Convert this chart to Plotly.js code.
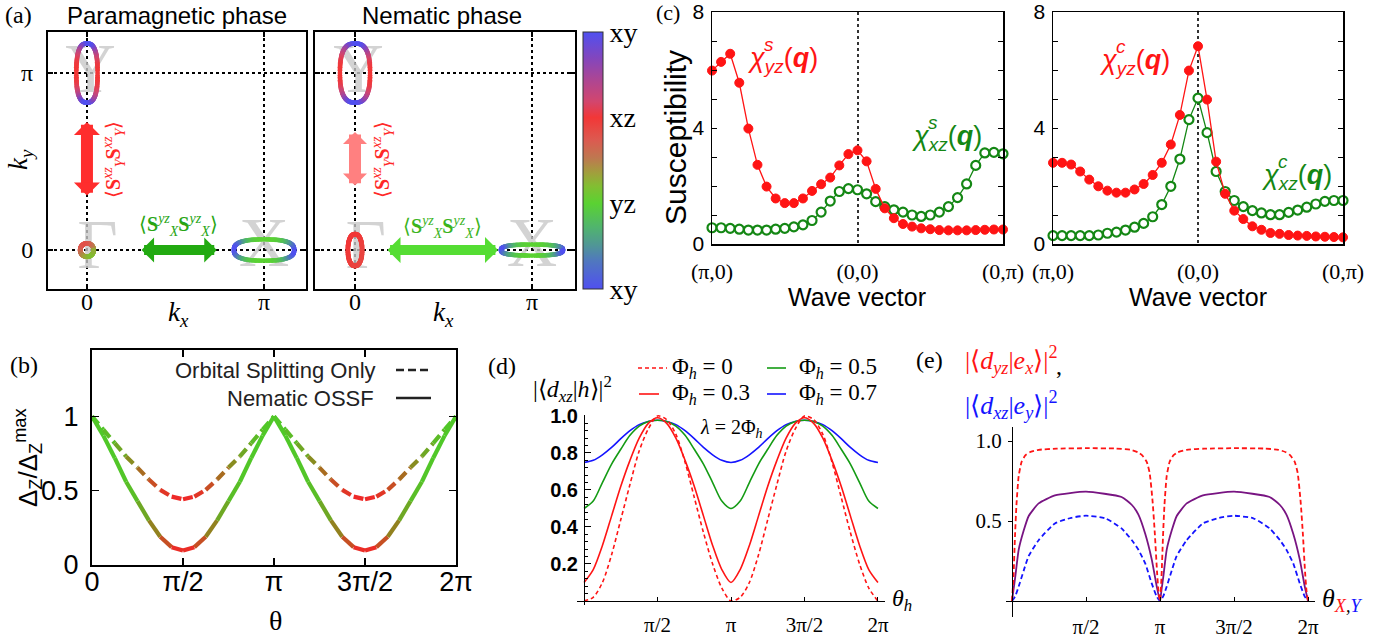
<!DOCTYPE html>
<html><head><meta charset="utf-8">
<script src="https://cdn.plot.ly/plotly-3.0.1.min.js"></script>
<style>html,body{margin:0;padding:0;background:#fff}#chart{width:1393px;height:637px}</style>
</head><body><div id="chart"></div>
<script>
const SANS='Liberation Sans, Arial, sans-serif';
const SERIF='Liberation Serif, Times New Roman, serif';

// ---------- (a) Fermi pockets (k in units of pi) ----------
const pocketPanel=['para','para','para','nem','nem','nem'];
const pocketName=['Y','Γ','X','Y','Γ','X'];
const pocketKx=[0,0,1,0,0,1];
const pocketKy=[1,0,0,1,0,0];
const pocketHalfW=[0.060,0.038,0.170,0.085,0.040,0.175];
const pocketHalfH=[0.167,0.038,0.060,0.167,0.090,0.031];
const pocketShapeExp=[2.6,2,2.6,2.6,2.2,2.6];
const pocketBaseOrbital=[0.667,0.5,0.333,0.667,0.65,0.333];
const orbitalTickVals=[0,0.333,0.667,1];
const orbitalTickText=['xy','yz','xz','xy'];
const letterText=['Y','Γ','X'];
const letterKx=[0.02,0.06,1.0];
const letterKy=[0.99,0.0,0.01];

// ---------- (c) susceptibilities ----------
const qIndex=[0,1,2,3,4,5,6,7,8,9,10,11,12,13,14,15,16,17,18,19,20,21,22,23,24,25,26,27,28,29,30,31,32];
const qTickVals=[0,16,32];
const qTickText=['(π,0)','(0,0)','(0,π)'];
const chiSyz=[5.98,6.28,6.56,5.56,3.98,2.73,1.98,1.57,1.41,1.41,1.57,1.83,2.06,2.29,2.71,3.10,3.23,2.85,1.90,1.23,0.89,0.69,0.60,0.54,0.51,0.48,0.47,0.47,0.47,0.48,0.49,0.50,0.50];
const chiSxz=[0.56,0.56,0.54,0.51,0.48,0.48,0.48,0.51,0.54,0.59,0.66,0.81,1.10,1.48,1.81,1.91,1.87,1.73,1.46,1.29,1.18,1.10,1.00,0.95,1.00,1.10,1.29,1.60,2.07,2.71,3.14,3.16,3.11];
const chiCyz=[2.80,2.80,2.74,2.50,2.22,1.99,1.84,1.77,1.77,1.88,2.07,2.38,2.80,3.43,4.45,5.98,6.82,4.98,2.84,1.73,1.15,0.86,0.61,0.49,0.38,0.35,0.31,0.29,0.28,0.26,0.25,0.24,0.23];
const chiCxz=[0.29,0.29,0.29,0.29,0.29,0.31,0.37,0.41,0.48,0.58,0.71,0.94,1.36,1.99,2.93,4.29,5.03,3.84,2.50,1.81,1.50,1.29,1.15,1.07,1.01,1.01,1.09,1.17,1.27,1.38,1.47,1.50,1.50];

// ---------- (b) Zeeman ratio (theta in units of pi) ----------
const thetaB=[0,0.0625,0.125,0.1875,0.25,0.3125,0.375,0.4375,0.5,0.5625,0.625,0.6875,0.75,0.8125,0.875,0.9375,1,1.0625,1.125,1.1875,1.25,1.3125,1.375,1.4375,1.5,1.5625,1.625,1.6875,1.75,1.8125,1.875,1.9375,2];
const orbitalOnly=[1.00,0.91,0.82,0.73,0.655,0.575,0.505,0.46,0.442,0.46,0.505,0.575,0.655,0.73,0.82,0.91,1.00,0.91,0.82,0.73,0.655,0.575,0.505,0.46,0.442,0.46,0.505,0.575,0.655,0.73,0.82,0.91,1.00];
const nematicOSSF=[1.00,0.87,0.72,0.56,0.43,0.30,0.19,0.12,0.097,0.12,0.19,0.30,0.43,0.56,0.72,0.87,1.00,0.87,0.72,0.56,0.43,0.30,0.19,0.12,0.097,0.12,0.19,0.30,0.43,0.56,0.72,0.87,1.00];
const thetaTickVals=[0,0.5,1,1.5,2];
const thetaTickText=['0','π/2','π','3π/2','2π'];

// ---------- (d) |<d_xz|h>|^2 ----------
const thetaD=[0,0.0625,0.125,0.1875,0.25,0.3125,0.375,0.4375,0.5,0.5625,0.625,0.6875,0.75,0.8125,0.875,0.9375,1,1.0625,1.125,1.1875,1.25,1.3125,1.375,1.4375,1.5,1.5625,1.625,1.6875,1.75,1.8125,1.875,1.9375,2];
const dPhi0=[0.00,0.02,0.10,0.25,0.44,0.63,0.81,0.93,1.00,0.98,0.90,0.75,0.56,0.37,0.20,0.07,0.00,0.02,0.10,0.25,0.44,0.63,0.81,0.93,1.00,0.98,0.90,0.75,0.56,0.37,0.20,0.07,0.00];
const dPhi03=[0.10,0.17,0.30,0.46,0.62,0.76,0.88,0.96,0.99,0.96,0.88,0.76,0.62,0.46,0.30,0.17,0.10,0.17,0.30,0.46,0.62,0.76,0.88,0.96,0.99,0.96,0.88,0.76,0.62,0.46,0.30,0.17,0.10];
const dPhi05=[0.50,0.54,0.64,0.74,0.82,0.895,0.945,0.97,0.977,0.97,0.945,0.895,0.82,0.74,0.64,0.54,0.50,0.54,0.64,0.74,0.82,0.895,0.945,0.97,0.977,0.97,0.945,0.895,0.82,0.74,0.64,0.54,0.50];
const dPhi07=[0.748,0.76,0.79,0.83,0.877,0.92,0.953,0.97,0.977,0.97,0.953,0.92,0.877,0.83,0.79,0.76,0.748,0.76,0.79,0.83,0.877,0.92,0.953,0.97,0.977,0.97,0.953,0.92,0.877,0.83,0.79,0.76,0.748];
const dTickVals=[0.2,0.4,0.6,0.8,1.0];
const dTickText=['0.2','0.4','0.6','0.8','1.0'];
const thetaHTickVals=[0.5,1,1.5,2];
const thetaHTickText=['π/2','π','3π/2','2π'];

// ---------- (e) orbital weights ----------
const eRedT=[0,0.01,0.02,0.03,0.045,0.065,0.09,0.12,0.18,0.3,0.5,0.7,0.8,0.85,0.88,0.91,0.93,0.95,0.965,0.98,0.99,1.0,1.01,1.02,1.03,1.045,1.065,1.09,1.12,1.18,1.3,1.5,1.7,1.8,1.85,1.88,1.91,1.93,1.95,1.965,1.98,1.99,2.0];
const eRed=[0,0.15,0.40,0.60,0.78,0.87,0.91,0.93,0.945,0.952,0.955,0.953,0.945,0.93,0.91,0.87,0.80,0.62,0.42,0.18,0.06,0,0.15,0.40,0.60,0.78,0.87,0.91,0.93,0.945,0.952,0.955,0.953,0.945,0.93,0.91,0.87,0.80,0.62,0.42,0.18,0.06,0];
const ePurpleT=[0,0.01,0.022,0.045,0.079,0.112,0.18,0.29,0.5,0.74,0.81,0.854,0.9,0.944,0.978,1.0,1.01,1.022,1.045,1.079,1.112,1.18,1.29,1.5,1.74,1.81,1.854,1.9,1.944,1.978,2.0];
const ePurple=[0,0.07,0.15,0.32,0.44,0.53,0.61,0.66,0.683,0.65,0.60,0.54,0.42,0.26,0.09,0,0.07,0.15,0.32,0.44,0.53,0.61,0.66,0.683,0.65,0.60,0.54,0.42,0.26,0.09,0];
const eBlueT=[0,0.022,0.045,0.079,0.112,0.18,0.29,0.4,0.5,0.63,0.74,0.81,0.854,0.9,0.944,0.978,1.0,1.022,1.045,1.079,1.112,1.18,1.29,1.4,1.5,1.63,1.74,1.81,1.854,1.9,1.944,1.978,2.0];
const eBlue=[0,0.03,0.09,0.19,0.28,0.38,0.485,0.52,0.533,0.517,0.454,0.38,0.32,0.235,0.11,0.027,0,0.03,0.09,0.19,0.28,0.38,0.485,0.52,0.533,0.517,0.454,0.38,0.32,0.235,0.11,0.027,0];
const eTickVals=[0.5,1.0];
const eTickText=['0.5','1.0'];

// ---------- helpers ----------
const W=1393,H=637;
const px=v=>v/W, py=v=>1-v/H;
const ORB_SCALE=[[0,'rgb(80,80,240)'],[0.11,'rgb(80,120,190)'],[0.17,'rgb(80,150,150)'],[0.24,'rgb(80,180,110)'],[0.333,'rgb(90,210,50)'],[0.40,'rgb(130,190,50)'],[0.45,'rgb(160,160,60)'],[0.51,'rgb(190,120,80)'],[0.58,'rgb(220,90,80)'],[0.667,'rgb(242,55,55)'],[0.73,'rgb(210,70,110)'],[0.82,'rgb(170,70,150)'],[0.90,'rgb(130,70,190)'],[1,'rgb(80,80,240)']];

function orbitalValue(i,ux,uy,phi){
  const b=pocketBaseOrbital[i];
  if(pocketName[i]==='Y') return b+(1-b)*Math.pow(Math.abs(uy),3);
  if(pocketName[i]==='X') return b*(1-Math.pow(Math.abs(ux),3));
  return b+(pocketPanel[i]==='para'?0.1:0.02)*Math.cos(phi-3*Math.PI/4);
}
function pocketTrace(panel,xa,ya,showScale){
  const xs=[],ys=[],cs=[];
  for(let i=0;i<pocketPanel.length;i++){
    if(pocketPanel[i]!==panel) continue;
    const n=160,e=pocketShapeExp[i];
    for(let k=0;k<n;k++){
      const phi=2*Math.PI*k/n,c=Math.cos(phi),s=Math.sin(phi);
      const ux=Math.sign(c)*Math.pow(Math.abs(c),2/e);
      const uy=Math.sign(s)*Math.pow(Math.abs(s),2/e);
      xs.push(pocketKx[i]+pocketHalfW[i]*ux);
      ys.push(pocketKy[i]+pocketHalfH[i]*uy);
      cs.push(orbitalValue(i,ux,uy,phi));
    }
  }
  const mk={size:4.8,color:cs,colorscale:ORB_SCALE,cmin:0,cmax:1,line:{width:0},showscale:showScale};
  if(showScale){
    mk.colorbar={x:px(583),xanchor:'left',y:py(289),yanchor:'bottom',len:(289-32)/H,lenmode:'fraction',
      thickness:20,thicknessmode:'pixels',xpad:0,ypad:0,outlinewidth:1,outlinecolor:'#333',
      tickvals:orbitalTickVals,ticktext:orbitalTickText,ticks:'',tickfont:{family:SERIF,size:28,color:'black'}};
  }
  return {x:xs,y:ys,mode:'markers',marker:mk,xaxis:xa,yaxis:ya,hoverinfo:'skip',cliponaxis:false};
}
function letterTrace(xa,ya){
  return {x:letterKx,y:letterKy,text:letterText,mode:'text',textposition:'middle center',
    textfont:{family:SERIF,size:70,color:'rgba(200,200,200,0.8)'},xaxis:xa,yaxis:ya,hoverinfo:'skip',cliponaxis:false};
}
function mixColor(s){
  const g=[80,200,40],o=[150,125,30],r=[240,40,40];
  let a,b,t;
  if(s<0.5){a=g;b=o;t=s/0.5;} else {a=o;b=r;t=(s-0.5)/0.5;}
  return 'rgb('+a.map((v,j)=>Math.round(v+(b[j]-v)*t)).join(',')+')';
}
function gradientSegments(xs,ys,power,dash){
  const out=[];
  for(let i=0;i<xs.length-1;i++){
    const tm=(xs[i]+xs[i+1])/2;
    const s=Math.pow(Math.abs(Math.sin(Math.PI*tm)),power);
    out.push({x:[xs[i],xs[i+1]],y:[ys[i],ys[i+1]],mode:'lines',
      line:{color:mixColor(s),width:4.2,dash:dash},xaxis:'x5',yaxis:'y5',hoverinfo:'skip'});
  }
  return out;
}

const traces=[];
traces.push(letterTrace('x','y'));
traces.push(pocketTrace('para','x','y',false));
traces.push(letterTrace('x2','y2'));
traces.push(pocketTrace('nem','x2','y2',true));

// (c)
const RED='rgb(255,20,20)', GREEN='rgb(20,135,20)';
function chiTrace(y,xa,ya,filled){
  return {x:qIndex,y:y,mode:'lines+markers',xaxis:xa,yaxis:ya,cliponaxis:false,hoverinfo:'skip',
    line:{color:filled?RED:GREEN,width:1.3},
    marker:filled?{size:9,color:RED,line:{color:RED,width:1}}:{size:9,color:'white',line:{color:GREEN,width:2.2}}};
}
traces.push(chiTrace(chiSxz,'x3','y3',false));
traces.push(chiTrace(chiSyz,'x3','y3',true));
traces.push(chiTrace(chiCxz,'x4','y4',false));
traces.push(chiTrace(chiCyz,'x4','y4',true));

// (b)
gradientSegments(thetaB,nematicOSSF,6,'solid').forEach(t=>traces.push(t));
gradientSegments(thetaB,orbitalOnly,2,'10px,5px').forEach(t=>traces.push(t));

// (d)
function dTrace(y,color,dash){
  return {x:thetaD,y:y,mode:'lines',line:{color:color,width:1.6,dash:dash,shape:'spline',smoothing:0.8},
    xaxis:'x6',yaxis:'y6',hoverinfo:'skip'};
}
traces.push(dTrace(dPhi07,'rgb(20,20,255)','solid'));
traces.push(dTrace(dPhi05,'rgb(20,155,20)','solid'));
traces.push(dTrace(dPhi03,'rgb(255,20,20)','solid'));
traces.push(dTrace(dPhi0,'rgb(255,20,20)','4px,3px'));

// (e)
function eTrace(x,y,color,dash){
  return {x:x,y:y,mode:'lines',line:{color:color,width:1.8,dash:dash,shape:'spline',smoothing:0.5},
    xaxis:'x7',yaxis:'y7',hoverinfo:'skip',cliponaxis:false};
}
traces.push(eTrace(eBlueT,eBlue,'rgb(20,20,255)','5px,3px'));
traces.push(eTrace(ePurpleT,ePurple,'rgb(120,20,130)','solid'));
traces.push(eTrace(eRedT,eRed,'rgb(255,20,20)','5px,3px'));

// ---------- axes ----------
function boxAxis(extra){
  return Object.assign({showline:true,linecolor:'black',linewidth:2,mirror:'allticks',ticks:'inside',
    ticklen:5,tickwidth:1.5,tickcolor:'black',zeroline:false,showgrid:false,fixedrange:true},extra);
}
const aGrid={showgrid:true,gridcolor:'black',griddash:'dot',gridwidth:1.2};
const layout={
  width:W,height:H,margin:{l:0,r:0,t:0,b:0},paper_bgcolor:'white',plot_bgcolor:'rgba(0,0,0,0)',
  showlegend:false,font:{family:SANS,color:'black'},
  xaxis:boxAxis(Object.assign({domain:[px(48),px(306)],range:[-0.22,1.237],tickvals:[0,1],ticktext:['0','π'],
    tickfont:{family:SERIF,size:24},ticklabelstandoff:-10,anchor:'y'},aGrid)),
  yaxis:boxAxis(Object.assign({domain:[py(289),py(32)],range:[-0.22,1.232],tickvals:[0,1],ticktext:['0','π'],
    tickfont:{family:SERIF,size:24},ticklabelstandoff:8,anchor:'x'},aGrid)),
  xaxis2:boxAxis(Object.assign({domain:[px(315),px(575)],range:[-0.226,1.243],tickvals:[0,1],ticktext:['0','π'],
    tickfont:{family:SERIF,size:24},ticklabelstandoff:-10,anchor:'y2'},aGrid)),
  yaxis2:boxAxis(Object.assign({domain:[py(289),py(32)],range:[-0.22,1.232],tickvals:[0,1],showticklabels:false,anchor:'x2'},aGrid)),
  xaxis3:boxAxis({domain:[px(712),px(1003)],range:[0,32],tickvals:qTickVals,ticktext:qTickText,ticks:'',linewidth:1.5,
    showgrid:true,gridcolor:'#333',griddash:'dot',gridwidth:2,tickfont:{family:SERIF,size:22},ticklabelstandoff:7,anchor:'y3'}),
  yaxis3:boxAxis({domain:[py(244),py(12)],range:[0,8],tickvals:[0,1,2,3,4,5,6,7,8],ticktext:['0','','','','4','','','','8'],
    linewidth:1.5,tickwidth:1,tickfont:{family:SANS,size:21},ticklabelstandoff:2,anchor:'x3'}),
  xaxis4:boxAxis({domain:[px(1053),px(1343)],range:[0,32],tickvals:qTickVals,ticktext:qTickText,ticks:'',linewidth:1.5,
    showgrid:true,gridcolor:'#333',griddash:'dot',gridwidth:2,tickfont:{family:SERIF,size:22},ticklabelstandoff:7,anchor:'y4'}),
  yaxis4:boxAxis({domain:[py(244),py(12)],range:[0,8],tickvals:[0,1,2,3,4,5,6,7,8],ticktext:['0','','','','4','','','','8'],
    linewidth:1.5,tickwidth:1,tickfont:{family:SANS,size:21},ticklabelstandoff:2,anchor:'x4'}),
  xaxis5:boxAxis({domain:[px(92),px(456)],range:[0,2],tickvals:thetaTickVals,ticktext:thetaTickText,ticklen:7,
    tickfont:{family:SANS,size:27},ticklabelstandoff:-8,anchor:'y5'}),
  yaxis5:boxAxis({domain:[py(565),py(350)],range:[0,1.446],tickvals:[0,0.5,1],ticktext:['0','0.5','1'],ticklen:7,
    tickfont:{family:SANS,size:27},ticklabelstandoff:6,anchor:'x5'}),
  xaxis6:{domain:[px(577),px(885)],range:[-0.048,2.048],anchor:'free',position:1-601/H,showline:true,linecolor:'black',linewidth:1.3,
    tickvals:thetaHTickVals,ticktext:thetaHTickText,ticks:'inside',ticklen:4,tickcolor:'black',showgrid:false,zeroline:false,
    tickfont:{family:SERIF,size:21},ticklabelstandoff:4,fixedrange:true},
  yaxis6:{domain:[py(605),py(415)],range:[-0.0216,1.005],anchor:'free',position:px(584),showline:true,linecolor:'black',linewidth:1.3,
    tickvals:dTickVals,ticktext:dTickText,ticks:'inside',ticklen:6,tickcolor:'black',showgrid:false,zeroline:false,
    minor:{dtick:0.04,ticks:'inside',ticklen:3,tickcolor:'black'},
    tickfont:{family:SANS,size:20,weight:'bold'},ticklabelstandoff:2,fixedrange:true},
  xaxis7:{domain:[px(1006),px(1315)],range:[-0.0405,2.047],anchor:'free',position:1-601/H,showline:true,linecolor:'black',linewidth:1.3,
    tickvals:thetaHTickVals,ticktext:thetaHTickText,ticks:'inside',ticklen:4,tickcolor:'black',showgrid:false,zeroline:false,
    tickfont:{family:SERIF,size:21},ticklabelstandoff:6,fixedrange:true},
  yaxis7:{domain:[py(617),py(427)],range:[-0.1,1.0875],anchor:'free',position:px(1012),showline:true,linecolor:'black',linewidth:1.3,
    tickvals:eTickVals,ticktext:eTickText,ticks:'outside',ticklen:4,tickcolor:'black',showgrid:false,zeroline:false,
    tickfont:{family:SERIF,size:21},ticklabelstandoff:2,fixedrange:true}
};

// ---------- annotations ----------
function T(text,x,y,size,opts){
  return Object.assign({text:text,x:px(x),y:py(y),xref:'paper',yref:'paper',showarrow:false,
    xanchor:'center',yanchor:'middle',font:{family:SERIF,size:size,color:'black'}},opts||{});
}
const ann=[];
// (a)
ann.push(T('(a)',18,15,24));
ann.push(T('Paramagnetic phase',177,15,24,{font:{family:SANS,size:24,color:'black'}}));
ann.push(T('Nematic phase',442,15,24,{font:{family:SANS,size:24,color:'black'}}));
ann.push(T('<i>k<sub>y</sub></i>',20,160,27,{textangle:-90}));
ann.push(T('<i>k<sub>x</sub></i>',178,314,27));
ann.push(T('<i>k<sub>x</sub></i>',443,314,27));
const SY='⟨<b>S</b><sup><i>xz</i></sup><sub><i>Y</i></sub><b>S</b><sup><i>xz</i></sup><sub><i>Y</i></sub>⟩';
const SX='⟨<b>S</b><sup><i>yz</i></sup><sub><i>X</i></sub><b>S</b><sup><i>yz</i></sup><sub><i>X</i></sub>⟩';
ann.push(T(SY,114,160,20,{textangle:-90,font:{family:SERIF,size:20,color:'rgb(255,40,40)'}}));
ann.push(T(SY,383,160,20,{textangle:-90,font:{family:SERIF,size:20,color:'rgb(255,40,40)'}}));
ann.push(T(SX,178,225,20,{font:{family:SERIF,size:20,color:'rgb(40,165,20)'}}));
ann.push(T(SX,442,227,20,{font:{family:SERIF,size:20,color:'rgb(60,180,30)'}}));
// arrows (start/end in k units)
const arrowCfg=[
  {xa:'x',ya:'y',x0:0,y0:0.30,x1:0,y1:0.723,w:12,head:26,color:'rgb(255,45,45)'},
  {xa:'x2',ya:'y2',x0:0,y0:0.356,x1:0,y1:0.667,w:12,head:24,color:'rgb(255,128,128)'},
  {xa:'x',ya:'y',x0:0.30,y0:0,x1:0.733,y1:0,w:10,head:25,color:'rgb(34,170,17)'},
  {xa:'x2',ya:'y2',x0:0.175,y0:0,x1:0.808,y1:0,w:10,head:26,color:'rgb(85,221,51)'}
];
arrowCfg.forEach(a=>{
  const sz=a.head/6/a.w;
  ann.push({text:'',showarrow:true,xref:a.xa,yref:a.ya,axref:a.xa,ayref:a.ya,x:a.x1,y:a.y1,ax:a.x0,ay:a.y0,
    arrowside:'end+start',arrowhead:1,startarrowhead:1,arrowsize:sz,startarrowsize:sz,arrowwidth:a.w,arrowcolor:a.color});
});
// (c)
ann.push(T('(c)',668,12,22));
ann.push(T('Susceptibility',676,138,30,{textangle:-90,font:{family:SANS,size:30,color:'black'}}));
ann.push(T('Wave vector',857,297,25,{font:{family:SANS,size:25,color:'black'}}));
ann.push(T('Wave vector',1198,297,25,{font:{family:SANS,size:25,color:'black'}}));
function chiLabel(sub,sup,x,y,color){
  ann.push(T('<i>χ</i><sub><i>'+sub+'</i></sub>(<b><i>q</i></b>)',x,y,27,{xanchor:'left',font:{family:SANS,size:27,color:color}}));
  ann.push(T('<i>'+sup+'</i>',x+16,y-16,19,{xanchor:'left',font:{family:SANS,size:19,color:color}}));
}
chiLabel('yz','s',746,60,RED);
chiLabel('xz','s',910,138,GREEN);
chiLabel('yz','c',1098,62,RED);
chiLabel('xz','c',1260,177,GREEN);
// (b)
ann.push(T('(b)',24,365,24));
ann.push(T('Δ<sub>Z</sub>/Δ<sub>Z</sub><sup>max</sup>',28,458,26,{textangle:-90,font:{family:SANS,size:26,color:'black'}}));
ann.push(T('θ',275,620,28));
ann.push(T('Orbital Splitting Only',378,370,22,{xanchor:'right',font:{family:SANS,size:22,color:'#222'}}));
ann.push(T('Nematic OSSF',376,398,22,{xanchor:'right',font:{family:SANS,size:22,color:'#222'}}));
// (d)
ann.push(T('(d)',502,366,24));
ann.push(T('|⟨<i>d</i><sub><i>xz</i></sub>|<i>h</i>⟩|<sup>2</sup>',572,389,24));
ann.push(T('Φ<sub><i>h</i></sub> = 0',670,368,23,{xanchor:'left'}));
ann.push(T('Φ<sub><i>h</i></sub> = 0.3',670,394,23,{xanchor:'left'}));
ann.push(T('Φ<sub><i>h</i></sub> = 0.5',797,368,23,{xanchor:'left'}));
ann.push(T('Φ<sub><i>h</i></sub> = 0.7',797,394,23,{xanchor:'left'}));
ann.push(T('<i>λ</i> = 2Φ<sub><i>h</i></sub>',731,428,20));
ann.push(T('<i>θ<sub>h</sub></i>',902,600,24));
// (e)
ann.push(T('(e)',929,360,24));
ann.push(T('|⟨<i>d</i><sub><i>yz</i></sub>|<i>e</i><sub><i>x</i></sub>⟩|<sup>2</sup>',963,360,26,{xanchor:'left',font:{family:SERIF,size:26,color:'rgb(255,20,20)'}}));
ann.push(T(',',1054,366,24,{xanchor:'left'}));
ann.push(T('|⟨<i>d</i><sub><i>xz</i></sub>|<i>e</i><sub><i>y</i></sub>⟩|<sup>2</sup>',963,405,26,{xanchor:'left',font:{family:SERIF,size:26,color:'rgb(20,20,255)'}}));
ann.push(T('<i>θ</i><sub><i><span style="color:rgb(255,20,20)">X</span>,<span style="color:rgb(20,20,255)">Y</span></i></sub>',1342,600,26));
layout.annotations=ann;

// legend sample lines
function sample(x0,x1,y,color,width,dash){
  return {type:'line',xref:'paper',yref:'paper',x0:px(x0),x1:px(x1),y0:py(y),y1:py(y),line:{color:color,width:width,dash:dash}};
}
layout.shapes=[
  sample(396,431,370,'#222',2.5,'8px,4px'),
  sample(396,431,398,'#222',2.5,'solid'),
  sample(638,667,368,'rgb(255,20,20)',1.6,'4px,3px'),
  sample(639,659,394,'rgb(255,20,20)',1.6,'solid'),
  sample(767,786,368,'rgb(20,155,20)',1.6,'solid'),
  sample(767,786,394,'rgb(20,20,255)',1.6,'solid')
];

Plotly.newPlot('chart',traces,layout,{displayModeBar:false,staticPlot:true});
</script></body></html>
